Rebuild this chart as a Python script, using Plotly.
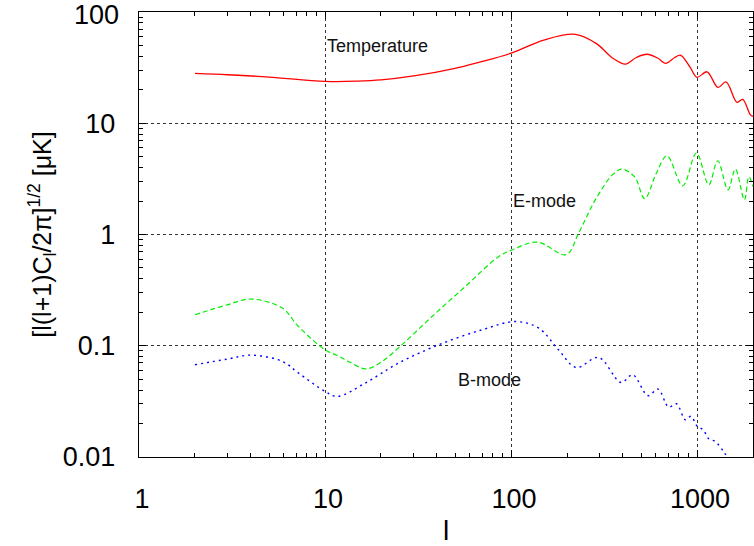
import math
import plotly.graph_objects as go

# Temperature spectrum
t_l = [2, 3, 5, 10, 15, 20, 30, 50, 67, 100, 150, 222, 288, 353, 412, 472, 538, 617, 676, 759, 814, 914,
       1000, 1132, 1297, 1432, 1641, 1761, 1936, 2000]
t_v = [28.1, 27.3, 26.0, 23.8, 23.9, 24.5, 26.6, 31.2, 35.3, 42.6, 56, 63, 52, 38.4, 34.0, 39, 41.7, 38.4, 34.6, 39, 41, 32.3,
       25.9, 29, 21, 23.5, 15.4, 16.4, 11.9, 11.5]

# E-mode spectrum
e_l = [2, 3, 4, 5.9, 7.2, 10, 11.8, 13.4, 16.6, 20.2, 25.9, 37.6, 56.8, 86, 100, 138, 198, 231, 284, 353, 395,
       462, 523, 605, 690, 838, 993, 1157, 1292, 1468, 1608, 1798, 1900, 2000]
e_v = [0.19, 0.234, 0.263, 0.218, 0.149, 0.092, 0.081, 0.072, 0.062, 0.072, 0.102, 0.183, 0.341, 0.635, 0.72, 0.855,
       0.66, 1.03, 2.05, 3.47, 3.87, 3.3, 2.1, 3.57, 5.1, 2.74, 5.4, 2.8, 4.6, 2.52, 3.87, 2.05, 3.3, 2.7]

# B-mode spectrum
b_l = [2, 3, 4, 5.9, 7.2, 10, 11.6, 16.4, 24.9, 40.9, 69.8, 106, 141, 180, 224, 296, 390, 451, 545, 617, 704, 775,
       866, 929, 1000, 1080, 1160, 1250, 1400, 1500]
b_v = [0.0675, 0.076, 0.0824, 0.0723, 0.0569, 0.0389, 0.035, 0.046, 0.07, 0.102, 0.139, 0.165, 0.144, 0.092, 0.0638,
       0.0785, 0.0468, 0.0548, 0.0356, 0.0408, 0.0281, 0.0301, 0.0216, 0.0232, 0.019, 0.0175, 0.0145, 0.0138, 0.011, 0.009]

x_major = [1, 10, 100, 1000]
x_major_text = ["1", "10", "100", "1000"]
y_major = [0.01, 0.1, 1, 10, 100]
y_major_text = ["0.01", "0.1", "1", "10", ""]
y_top_label = "100"
x_minor = [k * 10 ** d for d in range(0, 4) for k in range(2, 10) if k * 10 ** d <= 2000]
y_minor = [k * 10.0 ** d for d in range(-2, 2) for k in range(2, 10)]

labels = [("Temperature", 10, 49.4), ("E-mode", 100, 2.02), ("B-mode", 50.5, 0.0494)]

FONT = "Liberation Sans, Arial, sans-serif"

fig = go.Figure()
fig.add_trace(go.Scatter(x=t_l, y=t_v, mode="lines", line=dict(color="#ff0000", width=1.3, shape="spline"),
                         name="Temperature"))
fig.add_trace(go.Scatter(x=e_l, y=e_v, mode="lines",
                         line=dict(color="#00ee00", width=1.2, dash="5px,3px", shape="spline"), name="E-mode"))
fig.add_trace(go.Scatter(x=b_l, y=b_v, mode="lines",
                         line=dict(color="#0000ff", width=1.4, dash="2px,4px", shape="spline"), name="B-mode"))

for text, lx, ly in labels:
    fig.add_annotation(x=math.log10(lx), y=math.log10(ly), text=text, showarrow=False, xanchor="left",
                       yanchor="middle", font=dict(size=18, color="#111111", family=FONT))

# top tick label, nudged down slightly so it stays inside the page
fig.add_annotation(x=0, xref="paper", y=math.log10(100), yref="y", text=y_top_label, showarrow=False,
                   xanchor="right", yanchor="middle", xshift=-18, yshift=-3,
                   font=dict(size=27, family=FONT, color="black"))

axis_common = dict(
    type="log", showline=True, linecolor="black", linewidth=1.4, mirror="allticks",
    ticks="inside", ticklen=7, tickwidth=1, tickcolor="black",
    showgrid=True, gridcolor="#333333", griddash="dot", gridwidth=0.8,
    zeroline=False, tickfont=dict(size=27, family=FONT, color="black"),
    automargin=False, ticklabeloverflow="allow",
)

fig.update_xaxes(range=[0, math.log10(2000)], tickvals=x_major, ticktext=x_major_text,
                 minor=dict(tickvals=x_minor, ticks="inside", ticklen=4, tickcolor="black", showgrid=False),
                 ticklabelstandoff=17, ticklabelshift=3,
                 title=dict(text="l", font=dict(size=28, family=FONT, color="black"), standoff=23),
                 **axis_common)
fig.update_yaxes(range=[-2, 2], tickvals=y_major, ticktext=y_major_text,
                 minor=dict(tickvals=y_minor, ticks="inside", ticklen=4, tickcolor="black", showgrid=False),
                 ticklabelstandoff=17,
                 title=dict(text="[l(l+1)C<sub>l</sub>/2π]<sup>1/2</sup> [μK]",
                            font=dict(size=25, family=FONT, color="black"), standoff=4),
                 **axis_common)

fig.update_layout(width=754, height=546, margin=dict(l=139, r=1, t=12, b=89),
                  plot_bgcolor="white", paper_bgcolor="white", showlegend=False,
                  font=dict(family=FONT))

fig.write_html("out.html")
